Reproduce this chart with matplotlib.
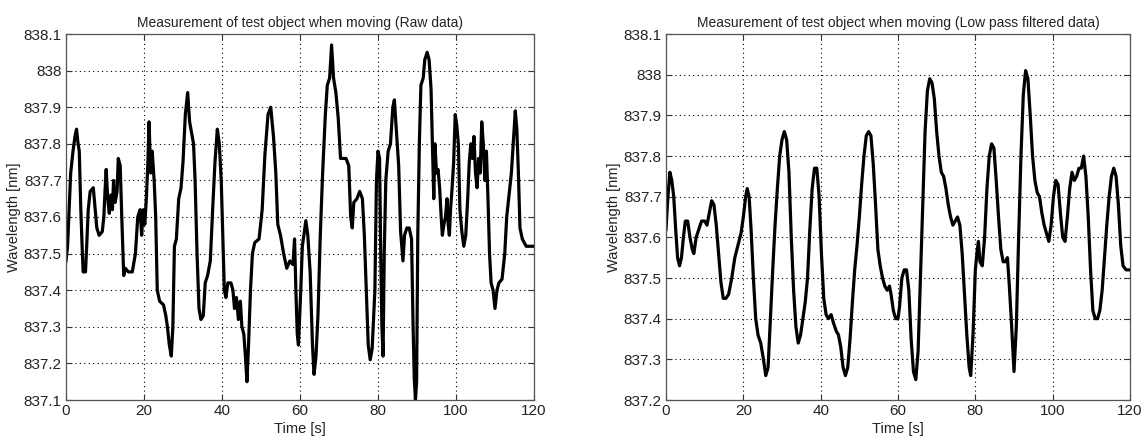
import matplotlib
matplotlib.use('Agg')
import matplotlib.pyplot as plt
import numpy as np

# Raw data: time [s], wavelength [nm]
raw_t = [0.0, 0.4, 0.8, 1.2, 1.8, 2.3, 2.7, 3.1, 3.4, 3.8, 4.2, 4.4, 5.0, 5.3, 5.7, 6.2, 7.0, 7.5, 7.9, 8.5,
         9.3, 9.7, 10.0, 10.3, 10.7, 11.1, 11.5, 11.9, 12.2, 12.6, 13.1, 13.4, 13.9, 14.3, 14.8, 15.2, 16.0, 17.0,
         17.8, 18.4, 19.0, 19.4, 19.8, 20.2, 20.6, 21.0, 21.3, 21.7, 22.1, 22.6, 23.0, 23.4, 24.0, 25.0, 25.6,
         26.0, 26.5, 27.0, 27.4, 27.8, 28.3, 28.9, 29.5, 30.0, 30.6, 31.2, 31.7, 32.2, 32.7, 33.1, 33.6, 34.1,
         34.6, 35.2, 35.7, 36.3, 37.0, 37.6, 38.2, 38.8, 39.3, 39.8, 40.2, 40.6, 41.0, 41.5, 42.3, 42.8, 43.2,
         43.7, 44.2, 44.7, 45.1, 45.6, 46.0, 46.4, 46.8, 47.3, 47.8, 48.4, 49.5, 50.3, 51.0, 51.8, 52.5, 53.2,
         53.8, 54.3, 55.0, 55.8, 56.6, 57.4, 58.2, 58.6, 59.0, 59.3, 59.6, 60.2, 60.6, 61.1, 61.5, 62.0, 62.6,
         63.2, 63.6, 64.1, 64.6, 65.2, 65.8, 66.5, 67.0, 67.6, 68.1, 68.6, 69.2, 69.8, 70.4, 71.0, 71.8, 72.5,
         73.0, 73.4, 73.8, 74.6, 75.3, 76.0, 76.5, 77.0, 77.5, 78.0, 78.5, 79.2, 79.6, 80.0, 80.4, 80.7, 81.0,
         81.3, 81.6, 82.0, 82.6, 83.2, 83.8, 84.2, 84.7, 85.3, 85.8, 86.4, 86.8, 87.4, 88.0, 88.6, 89.0, 89.3,
         89.6, 89.9, 90.2, 90.6, 91.0, 91.6, 92.0, 92.6, 93.1, 93.6, 94.0, 94.3, 94.6, 95.0, 95.4, 95.8, 96.2,
         96.5, 96.9, 97.3, 97.7, 98.0, 98.3, 98.6, 99.0, 99.4, 99.8, 100.2, 100.6, 101.0, 101.5, 102.0, 102.5,
         103.0, 103.4, 103.8, 104.2, 104.6, 105.0, 105.4, 105.8, 106.2, 106.6, 107.0, 107.4, 107.8, 108.2,
         108.6, 109.0, 109.5, 110.0, 110.5, 111.0, 111.8, 112.5, 113.0, 113.6, 114.2, 114.8, 115.2, 115.6,
         116.0, 116.4, 117.0, 118.0, 119.0, 120.0]
raw_v = [837.48, 837.52, 837.62, 837.72, 837.78, 837.82, 837.84, 837.80, 837.78, 837.62, 837.50, 837.45, 837.45,
         837.52, 837.62, 837.67, 837.68, 837.62, 837.57, 837.55, 837.56, 837.60, 837.67, 837.73, 837.65, 837.61,
         837.66, 837.62, 837.70, 837.64, 837.67, 837.76, 837.74, 837.60, 837.44, 837.46, 837.45, 837.45, 837.50,
         837.60, 837.62, 837.55, 837.62, 837.58, 837.65, 837.75, 837.86, 837.72, 837.78, 837.70, 837.60, 837.40,
         837.37, 837.36, 837.33, 837.30, 837.25, 837.22, 837.30, 837.52, 837.54, 837.65, 837.68, 837.75, 837.88,
         837.94, 837.86, 837.83, 837.80, 837.70, 837.50, 837.35, 837.32, 837.33, 837.42, 837.44, 837.48, 837.62,
         837.75, 837.84, 837.80, 837.70, 837.55, 837.40, 837.38, 837.42, 837.42, 837.40, 837.35, 837.38, 837.32,
         837.37, 837.30, 837.28, 837.22, 837.15, 837.25, 837.40, 837.50, 837.53, 837.54, 837.62, 837.77, 837.88,
         837.90, 837.82, 837.72, 837.58, 837.55, 837.50, 837.46, 837.48, 837.47, 837.54, 837.38, 837.28, 837.25,
         837.40, 837.52, 837.56, 837.59, 837.55, 837.45, 837.25, 837.17, 837.22, 837.33, 837.55, 837.72, 837.88,
         837.96, 837.98, 838.07, 837.98, 837.94, 837.87, 837.76, 837.76, 837.76, 837.74, 837.60, 837.57, 837.64,
         837.65, 837.67, 837.65, 837.55, 837.40, 837.25, 837.21, 837.24, 837.40, 837.70, 837.78, 837.76, 837.50,
         837.30, 837.22, 837.50, 837.70, 837.78, 837.80, 837.90, 837.92, 837.84, 837.74, 837.56, 837.48, 837.55,
         837.57, 837.57, 837.54, 837.30, 837.16, 837.10, 837.15, 837.55, 837.80, 837.96, 837.98, 838.03, 838.05,
         838.03, 837.95, 837.78, 837.65, 837.80, 837.72, 837.73, 837.68, 837.60, 837.55, 837.58, 837.60, 837.65,
         837.58, 837.55, 837.62, 837.68, 837.75, 837.88, 837.85, 837.80, 837.62, 837.56, 837.52, 837.55, 837.65,
         837.75, 837.80, 837.76, 837.82, 837.72, 837.68, 837.76, 837.72, 837.86, 837.80, 837.70, 837.78, 837.65,
         837.50, 837.42, 837.40, 837.35, 837.40, 837.42, 837.43, 837.50, 837.60, 837.66, 837.72, 837.82, 837.89,
         837.84, 837.72, 837.57, 837.54, 837.52, 837.52, 837.52]

# Low pass filtered data
lp_t = [0.0, 0.5, 1.0, 1.5, 2.0, 2.5, 3.0, 3.5, 4.0, 4.5, 5.0, 5.6, 6.2, 6.8, 7.2, 7.8, 8.5, 9.2, 10.0, 10.6,
        11.2, 11.8, 12.4, 13.0, 13.6, 14.2, 14.8, 15.5, 16.2, 17.0, 17.8, 18.6, 19.4, 20.0, 20.6, 21.0, 21.5,
        22.0, 22.6, 23.2, 23.8, 24.5, 25.2, 25.8, 26.4, 27.0, 27.6, 28.2, 28.8, 29.4, 30.0, 30.6, 31.2, 31.8,
        32.4, 33.0, 33.6, 34.2, 34.8, 35.4, 36.0, 36.6, 37.2, 37.8, 38.4, 39.0, 39.6, 40.2, 40.8, 41.4, 42.0,
        42.7, 43.3, 44.0, 44.6, 45.2, 45.8, 46.4, 47.0, 47.6, 48.2, 48.8, 49.4, 50.0, 50.6, 51.2, 51.8, 52.4,
        53.0, 53.6, 54.2, 54.8, 55.4, 56.0, 56.6, 57.2, 57.8, 58.2, 58.8, 59.4, 60.0, 60.4, 61.0, 61.6, 62.2,
        62.8, 63.4, 64.0, 64.6, 65.2, 65.8, 66.4, 67.0, 67.6, 68.2, 68.8, 69.4, 70.0, 70.6, 71.2, 71.8, 72.4,
        73.0, 73.6, 74.2, 74.8, 75.4, 76.0, 76.6, 77.2, 77.8, 78.4, 78.8, 79.4, 80.0, 80.4, 80.8, 81.2, 81.8,
        82.4, 83.0, 83.6, 84.2, 84.8, 85.4, 86.0, 86.6, 87.2, 87.8, 88.3, 88.8, 89.4, 90.0, 90.6, 91.2, 91.8,
        92.4, 93.0, 93.6, 94.2, 94.8, 95.4, 96.0, 96.6, 97.2, 97.8, 98.4, 99.0, 99.6, 100.2, 100.8, 101.4,
        102.0, 102.6, 103.2, 103.8, 104.4, 105.0, 105.6, 106.2, 106.8, 107.4, 108.0, 108.6, 109.2, 109.8,
        110.4, 111.0, 111.6, 112.2, 112.8, 113.4, 114.0, 114.6, 115.2, 115.8, 116.4, 117.0, 117.6, 118.2,
        119.0, 120.0]
lp_v = [837.62, 837.70, 837.76, 837.74, 837.70, 837.62, 837.55, 837.53, 837.55, 837.60, 837.64, 837.64, 837.60,
        837.57, 837.56, 837.60, 837.62, 837.64, 837.64, 837.63, 837.66, 837.69, 837.68, 837.63, 837.56, 837.49,
        837.45, 837.45, 837.46, 837.50, 837.55, 837.58, 837.61, 837.65, 837.70, 837.72, 837.70, 837.62, 837.50,
        837.40, 837.36, 837.34, 837.30, 837.26, 837.28, 837.40, 837.52, 837.63, 837.72, 837.80, 837.84, 837.86,
        837.84, 837.76, 837.60, 837.47, 837.38, 837.34, 837.36, 837.40, 837.44, 837.50, 837.62, 837.72, 837.77,
        837.77, 837.70, 837.56, 837.45, 837.41, 837.40, 837.41, 837.39, 837.37, 837.36, 837.33, 837.28, 837.26,
        837.28, 837.35, 837.44, 837.52, 837.58, 837.65, 837.73, 837.80, 837.85, 837.86, 837.85, 837.78, 837.68,
        837.57, 837.53, 837.50, 837.48, 837.47, 837.48, 837.46, 837.42, 837.40, 837.40, 837.43, 837.50, 837.52,
        837.52, 837.47, 837.35, 837.27, 837.25, 837.32, 837.50, 837.68, 837.86, 837.96, 837.99, 837.98, 837.94,
        837.86, 837.80, 837.76, 837.75, 837.72, 837.68, 837.65, 837.63, 837.64, 837.65, 837.63, 837.56, 837.46,
        837.36, 837.28, 837.26, 837.36, 837.52, 837.56, 837.59, 837.54, 837.53, 837.60, 837.72, 837.80, 837.83,
        837.82, 837.74, 837.65, 837.57, 837.54, 837.54, 837.55, 837.48, 837.38, 837.27, 837.38, 837.60, 837.80,
        837.95, 838.01, 837.99, 837.90, 837.80, 837.74, 837.71, 837.70, 837.66, 837.63, 837.61, 837.59, 837.63,
        837.70, 837.74, 837.73, 837.66, 837.60, 837.59, 837.65, 837.72, 837.76, 837.74, 837.75, 837.77, 837.77,
        837.80, 837.75, 837.65, 837.52, 837.42, 837.40, 837.40, 837.42, 837.47, 837.55, 837.63, 837.70, 837.75,
        837.77, 837.75, 837.68, 837.58, 837.53, 837.52, 837.52]

x_ticks = [0, 20, 40, 60, 80, 100, 120]
raw_yticks = [837.1, 837.2, 837.3, 837.4, 837.5, 837.6, 837.7, 837.8, 837.9, 838.0, 838.1]
lp_yticks = [837.2, 837.3, 837.4, 837.5, 837.6, 837.7, 837.8, 837.9, 838.0, 838.1]


def tick_label(v):
    s = '%.1f' % v
    return s[:-2] if s.endswith('.0') else s


plt.rcParams['font.family'] = ['Liberation Sans', 'DejaVu Sans']

fig = plt.figure(figsize=(11.46, 4.41), dpi=100)
ax1 = fig.add_axes([66 / 1146, 41 / 441, 468 / 1146, 366 / 441])
ax2 = fig.add_axes([666 / 1146, 41 / 441, 464 / 1146, 366 / 441])

panels = [
    (ax1, raw_t, raw_v, raw_yticks, 'Measurement of test object when moving (Raw data)'),
    (ax2, lp_t, lp_v, lp_yticks, 'Measurement of test object when moving (Low pass filtered data)'),
]

for ax, t, v, yt, title in panels:
    ax.plot(t, v, color='black', linewidth=2.3)
    ax.set_xlim(0, 120)
    ax.set_ylim(yt[0], yt[-1])
    ax.set_xticks(x_ticks)
    ax.set_yticks(yt)
    ax.set_yticklabels([tick_label(y) for y in yt])
    ax.grid(True, color='black', linestyle=(0, (1, 3)), linewidth=0.8)
    ax.tick_params(direction='in', length=4, top=True, right=True, labelsize=11,
                   colors='#333333', labelcolor='#222222', pad=3)
    for sp in ax.spines.values():
        sp.set_color('#555555')
        sp.set_linewidth(0.9)
    ax.set_title(title, fontsize=10, color='#222222', pad=5)
    ax.set_xlabel('Time [s]', fontsize=10.5, color='#222222', labelpad=3)
    ax.set_ylabel('Wavelength [nm]', fontsize=10.5, color='#222222', labelpad=2)

fig.savefig('out.png', dpi=100)
